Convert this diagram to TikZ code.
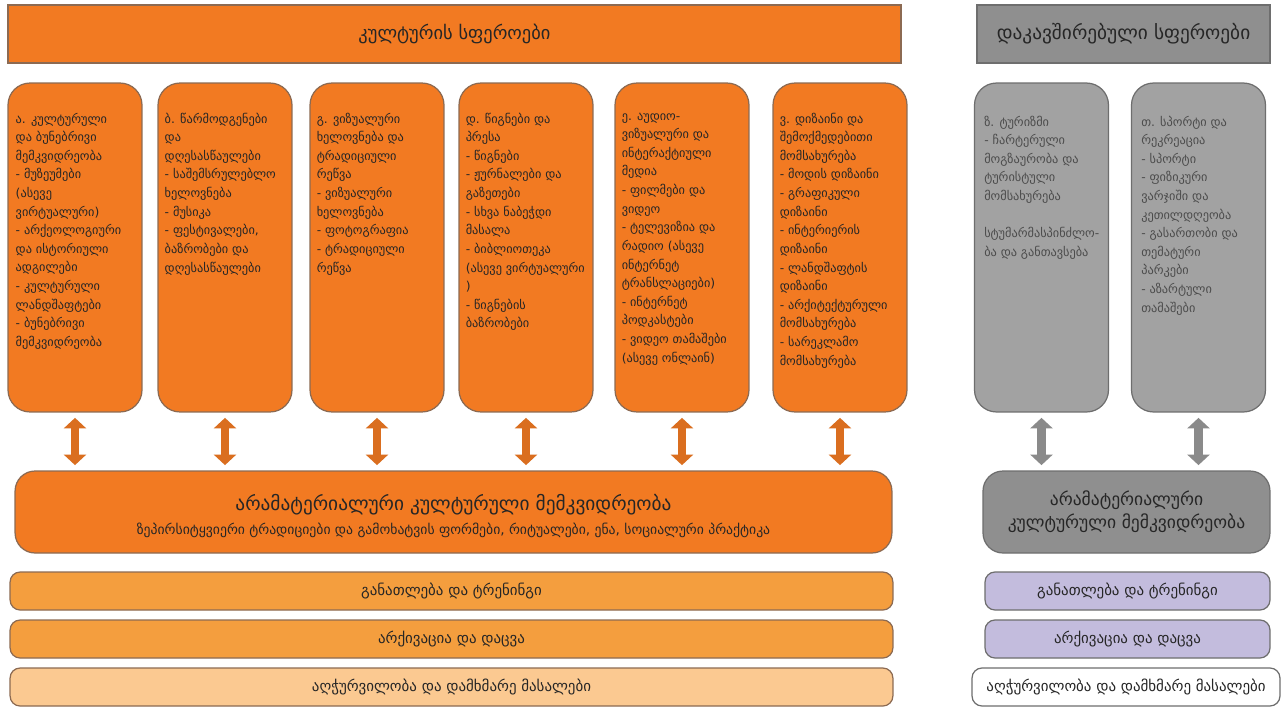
\documentclass[tikz,border=0pt]{standalone}
\usepackage{fontspec}
\setmainfont{DejaVu Sans}
\usetikzlibrary{positioning}
\usetikzlibrary{arrows.meta}

\definecolor{ora}{HTML}{F27A22}
\definecolor{orb}{HTML}{F49E3E}
\definecolor{orl}{HTML}{FBC991}
\definecolor{gry}{HTML}{A2A2A2}
\definecolor{gryd}{HTML}{8F8F8F}
\definecolor{lav}{HTML}{C3BCDD}
\definecolor{edge}{HTML}{8C6A52}
\definecolor{gedge}{HTML}{6E6E6E}

\begin{document}
\begin{tikzpicture}
  [x=0.02cm, y=-0.02cm,
   every node/.style = {inner sep=0pt, text=black!85},
   bar/.style = {draw=edge, line width=0.7pt, fill=ora, minimum height=1.16cm,
     font=\fontsize{10.5}{12}\selectfont},
   catbox/.style = {draw=edge, line width=0.7pt, fill=ora, rounded corners=0.44cm,
     minimum width=2.68cm, minimum height=6.58cm},
   gcatbox/.style = {catbox, draw=gedge, fill=gry},
   txt/.style = {align=left, anchor=north west, font=\fontsize{7}{10.6}\selectfont},
   gtxt/.style = {txt, text=black!70},
   ich/.style = {draw=edge, line width=0.7pt, fill=ora, rounded corners=0.4cm,
     minimum height=1.64cm, align=center},
   strip/.style = {draw=edge, line width=0.7pt, fill=orb, rounded corners=0.2cm,
     minimum height=0.76cm, font=\fontsize{8.5}{10}\selectfont},
   dbl/.style = {line width=5pt, draw=ora!90!black,
     {Triangle[width=12.5pt,length=6pt]}-{Triangle[width=12.5pt,length=6pt]},
     shorten <=3pt, shorten >=3pt}]

  \fill [white] (0,0) rectangle (1286,711);
  \useasboundingbox (0,0) rectangle (1286,711);

  % headers
  \node [bar, minimum width=17.86cm] (cult) at (454.5,34) {კულტურის სფეროები};
  \node [bar, draw=gedge, fill=gryd, minimum width=5.86cm,
    font=\fontsize{11}{13}\selectfont] (rel) at (1123.5,34) {დაკავშირებული სფეროები};

  % cultural domains
  \node [catbox] (b1) at (75,247.5) {};
  \node [catbox] (b2) at (225,247.5) {};
  \node [catbox] (b3) at (377,247.5) {};
  \node [catbox] (b4) at (526,247.5) {};
  \node [catbox] (b5) at (682,247.5) {};
  \node [catbox] (b6) at (840,247.5) {};

  \node [txt, below right=0.6cm and 0.16cm of b1.north west] (t1)
    {ა. კულტურული\\და ბუნებრივი\\მემკვიდრეობა\\- მუზეუმები\\(ასევე\\ვირტუალური)\\- არქეოლოგიური\\და ისტორიული\\ადგილები\\- კულტურული\\ლანდშაფტები\\- ბუნებრივი\\მემკვიდრეობა};
  \node [txt, below right=0.6cm and 0.14cm of b2.north west] (t2)
    {ბ. წარმოდგენები\\და\\დღესასწაულები\\- საშემსრულებლო\\ხელოვნება\\- მუსიკა\\- ფესტივალები,\\ბაზრობები და\\დღესასწაულები};
  \node [txt, below right=0.6cm and 0.14cm of b3.north west] (t3)
    {გ. ვიზუალური\\ხელოვნება და\\ტრადიციული\\რეწვა\\- ვიზუალური\\ხელოვნება\\- ფოტოგრაფია\\- ტრადიციული\\რეწვა};
  \node [txt, below right=0.6cm and 0.14cm of b4.north west] (t4)
    {დ. წიგნები და\\პრესა\\- წიგნები\\- ჟურნალები და\\გაზეთები\\- სხვა ნაბეჭდი\\მასალა\\- ბიბლიოთეკა\\(ასევე ვირტუალური\\)\\- წიგნების\\ბაზრობები};
  \node [txt, below right=0.6cm and 0.14cm of b5.north west] (t5)
    {ე. აუდიო-\\ვიზუალური და\\ინტერაქტიული\\მედია\\- ფილმები და\\ვიდეო\\- ტელევიზია და\\რადიო (ასევე\\ინტერნეტ\\ტრანსლაციები)\\- ინტერნეტ\\პოდკასტები\\- ვიდეო თამაშები\\(ასევე ონლაინ)};
  \node [txt, below right=0.6cm and 0.14cm of b6.north west] (t6)
    {ვ. დიზაინი და\\შემოქმედებითი\\მომსახურება\\- მოდის დიზაინი\\- გრაფიკული\\დიზაინი\\- ინტერიერის\\დიზაინი\\- ლანდშაფტის\\დიზაინი\\- არქიტექტურული\\მომსახურება\\- სარეკლამო\\მომსახურება};

  % related domains
  \node [gcatbox] (b7) at (1041.5,247.5) {};
  \node [gcatbox] (b8) at (1198.5,247.5) {};

  \node [gtxt, below right=0.66cm and 0.2cm of b7.north west] (t7)
    {ზ. ტურიზმი\\- ჩარტერული\\მოგზაურობა და\\ტურისტული\\მომსახურება\\[10.6pt]სტუმარმასპინძლო-\\ბა და განთავსება};
  \node [gtxt, below right=0.66cm and 0.2cm of b8.north west] (t8)
    {თ. სპორტი და\\რეკრეაცია\\- სპორტი\\- ფიზიკური\\ვარჯიში და\\კეთილდღეობა\\- გასართობი და\\თემატური\\პარკები\\- აზარტული\\თამაშები};

  % intangible heritage
  \node [ich, minimum width=17.54cm] (ich) at (453.5,512) {};
  \node [align=center] (ichtxt) at (453.5,516)
    {{\fontsize{11}{13}\selectfont არამატერიალური კულტურული მემკვიდრეობა}\\[2pt]
     {\fontsize{7.8}{9}\selectfont ზეპირსიტყვიერი ტრადიციები და გამოხატვის ფორმები, რიტუალები, ენა, სოციალური პრაქტიკა}};
  \node [ich, draw=gedge, fill=gryd, minimum width=5.74cm,
    font=\fontsize{10}{13}\selectfont] (gich) at (1126.5,512)
    {არამატერიალური\\კულტურული მემკვიდრეობა};

  \draw [dbl] (b1.south) -- (b1.south |- ich.north);
  \draw [dbl] (b2.south) -- (b2.south |- ich.north);
  \draw [dbl] (b3.south) -- (b3.south |- ich.north);
  \draw [dbl] (b4.south) -- (b4.south |- ich.north);
  \draw [dbl] (b5.south) -- (b5.south |- ich.north);
  \draw [dbl] (b6.south) -- (b6.south |- ich.north);
  \draw [dbl, draw=gry!85!black] (b7.south) -- (b7.south |- gich.north);
  \draw [dbl, draw=gry!85!black] (b8.south) -- (b8.south |- gich.north);

  % transversal strips
  \node [strip, minimum width=17.66cm] (edu) at (451.5,591) {განათლება და ტრენინგი};
  \node [strip, minimum width=17.66cm] (arc) at (451.5,639) {არქივაცია და დაცვა};
  \node [strip, fill=orl, minimum width=17.66cm] (eq) at (451.5,687) {აღჭურვილობა და დამხმარე მასალები};

  \node [strip, draw=gedge, fill=lav, minimum width=5.7cm] (gedu) at (1127.5,591) {განათლება და ტრენინგი};
  \node [strip, draw=gedge, fill=lav, minimum width=5.7cm] (garc) at (1127.5,639) {არქივაცია და დაცვა};
  \node [strip, draw=gedge, fill=white, minimum width=6.16cm] (geq) at (1126,687) {აღჭურვილობა და დამხმარე მასალები};
\end{tikzpicture}
\end{document}
